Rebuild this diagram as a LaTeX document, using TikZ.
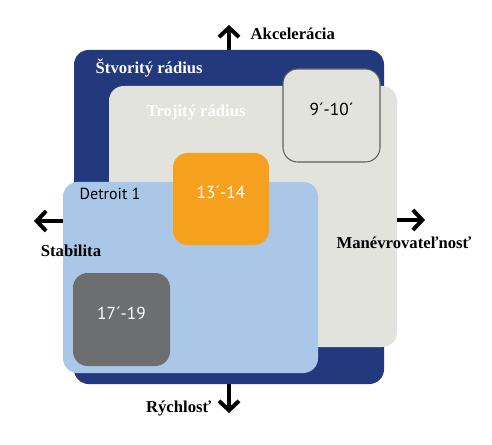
\documentclass[tikz,border=0pt]{standalone}
\usepackage{fontspec}
\setmainfont{Liberation Serif}
\setsansfont{PT Sans}
\usetikzlibrary{arrows.meta,fit}

\definecolor{quadblue}{RGB}{35,57,125}
\definecolor{tripgrey}{RGB}{227,227,222}
\definecolor{detblue}{RGB}{171,199,232}
\definecolor{orangebox}{RGB}{245,161,29}
\definecolor{darkbox}{RGB}{109,110,112}
\definecolor{edgegrey}{RGB}{95,95,95}

\begin{document}
\begin{tikzpicture}[x=0.75pt, y=-0.75pt,
    box/.style={inner sep=0pt, rounded corners=11pt, font=\sffamily\fontsize{13}{15}\selectfont},
    axis/.style={line width=3pt, -{Straight Barb[length=7pt, width=15pt, line width=3pt]}},
    axislabel/.style={font=\bfseries\fontsize{12.5}{15}\selectfont}]
    \useasboundingbox (0,0) rectangle (492,445);

    % radius areas
    \node (quad) [box, fill=quadblue, fit={(74,50) (384,384)}] {};
    \node (triple) [box, fill=tripgrey, fit={(109,86) (397,347)}] {};
    \node (nine) [box, fill=tripgrey, draw=edgegrey, line width=0.8pt, fit={(283,69) (380,162)}] {9´-10´};
    \node (detroit) [box, fill=detblue, fit={(63,182) (318,373)}] {};
    \node (thirteen) [box, fill=orangebox, text=white, fit={(173,153) (269,245)}] {13´-14};
    \node (seventeen) [box, fill=darkbox, text=white, fit={(73,273) (170,366)}] {17´-19};

    % titles
    \node[axislabel, text=white, anchor=west] (quadlbl) at (91,68) {Štvoritý rádius};
    \node[axislabel, text=white, anchor=west] (triplbl) at (142,113) {Trojitý rádius};
    \node[font=\sffamily\fontsize{12}{14}\selectfont, anchor=west] (detlbl) at (75,194) {Detroit 1};

    % axes
    \coordinate (uptip) at (229,25);
    \coordinate (downtip) at (229,413);
    \coordinate (lefttip) at (34,221);
    \coordinate (righttip) at (425,220);
    \draw[axis] (quad.north) -- (uptip);
    \draw[axis] (quad.south) -- (downtip);
    \draw[axis] (detroit.west |- lefttip) -- (lefttip);
    \draw[axis] (triple.east |- righttip) -- (righttip);

    \node[axislabel, anchor=west] (acc) at (246,34) {Akcelerácia};
    \node[axislabel, anchor=east] (speed) at (216,408) {Rýchlosť};
    \node[axislabel] (stab) at (71,251) {Stabilita};
    \node[axislabel] (mano) at (404,243) {Manévrovateľnosť};
\end{tikzpicture}
\end{document}
